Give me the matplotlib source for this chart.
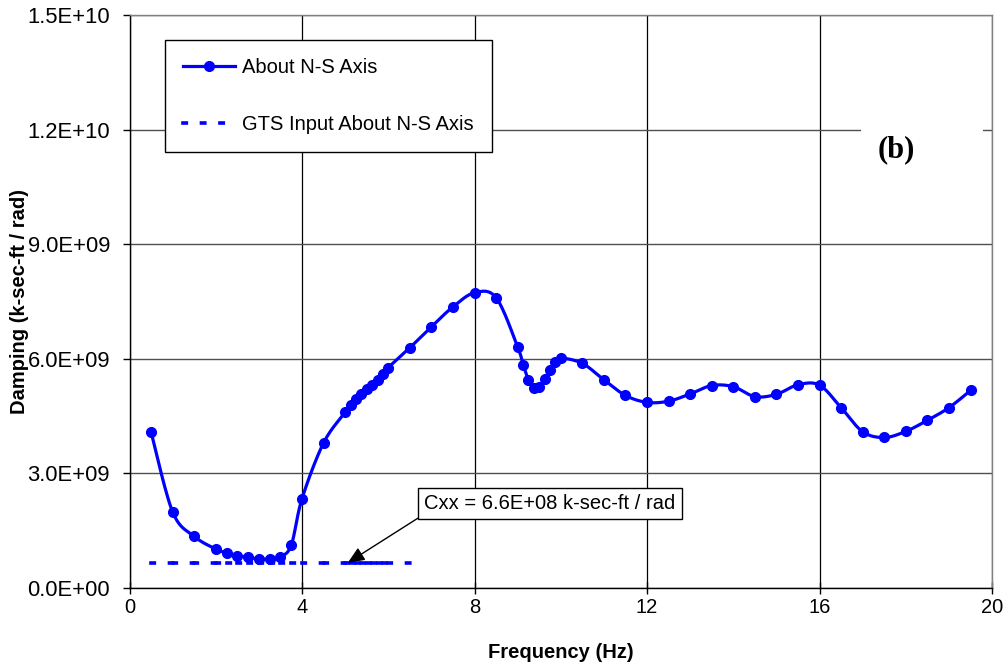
import numpy as np
import matplotlib
matplotlib.use("Agg")
import matplotlib.pyplot as plt
from matplotlib.lines import Line2D
from matplotlib.collections import LineCollection
from matplotlib.patches import Rectangle

plt.rcParams["font.family"] = ["Liberation Sans", "DejaVu Sans"]
plt.rcParams["lines.scale_dashes"] = False

# Frequency (Hz) and damping about the N-S axis (k-sec-ft / rad)
freq = [0.5, 1.0, 1.5, 2.0, 2.25, 2.5, 2.75, 3.0, 3.25, 3.5, 3.75, 4.0, 4.5,
        5.0, 5.125, 5.25, 5.375, 5.5, 5.625, 5.75, 5.875, 6.0, 6.5, 7.0, 7.5,
        8.0, 8.5, 9.0, 9.125, 9.25, 9.375, 9.5, 9.625, 9.75, 9.875, 10.0,
        10.5, 11.0, 11.5, 12.0, 12.5, 13.0, 13.5, 14.0, 14.5, 15.0, 15.5,
        16.0, 16.5, 17.0, 17.5, 18.0, 18.5, 19.0, 19.5]
damping_e9 = [4.08, 1.99, 1.35, 1.02, 0.92, 0.85, 0.80, 0.76, 0.76, 0.82, 1.12,
              2.34, 3.80, 4.60, 4.80, 4.95, 5.07, 5.20, 5.32, 5.45, 5.60, 5.77,
              6.29, 6.84, 7.36, 7.73, 7.60, 6.31, 5.85, 5.45, 5.24, 5.26, 5.48,
              5.71, 5.92, 6.02, 5.88, 5.45, 5.04, 4.86, 4.89, 5.08, 5.30, 5.27,
              5.01, 5.07, 5.32, 5.31, 4.72, 4.09, 3.94, 4.10, 4.39, 4.72, 5.17]

# GTS input damping, constant over the lower frequency points
gts_value = 6.6e8
gts_count = 23

xticks = [0, 4, 8, 12, 16, 20]
yticks = [0.0, 3.0e9, 6.0e9, 9.0e9, 1.2e10, 1.5e10]
ytick_labels = ["0.0E+00", "3.0E+09", "6.0E+09", "9.0E+09", "1.2E+10", "1.5E+10"]

BLUE = "#0000FF"
FS = 14.5


def smooth_curve(xs, ys, xspan, yspan, n=24):
    """Cardinal (Catmull-Rom) spline through the points, like a smoothed line chart."""
    px = np.asarray(xs, float) / xspan
    py = np.asarray(ys, float) / yspan
    P = np.column_stack([px, py])
    P = np.vstack([P[0], P, P[-1]])
    out = []
    t = np.linspace(0, 1, n, endpoint=False)[:, None]
    for i in range(1, len(P) - 2):
        p0, p1, p2, p3 = P[i - 1], P[i], P[i + 1], P[i + 2]
        c1 = p1 + (p2 - p0) / 6.0
        c2 = p2 - (p3 - p1) / 6.0
        seg = ((1 - t) ** 3) * p1 + 3 * ((1 - t) ** 2) * t * c1 \
            + 3 * (1 - t) * t ** 2 * c2 + t ** 3 * p2
        out.append(seg)
    out.append(P[-2][None, :])
    out = np.vstack(out)
    return out[:, 0] * xspan, out[:, 1] * yspan


fig = plt.figure(figsize=(10.08, 6.68), dpi=100)
ax = fig.add_axes([0.1285, 0.1198, 0.8557, 0.8577])

ax.set_xlim(0, 20)
ax.set_ylim(0, 1.5e10)

damping = np.array(damping_e9) * 1e9

# grid
for xv in xticks:
    ax.axvline(xv, color="black", lw=0.9, zorder=1)
for yv in yticks:
    ax.axhline(yv, color="#505050", lw=1.0, zorder=1)

# main series: smoothed line with markers
sx, sy = smooth_curve(freq, damping, 20.0 * 0.6, 1.5e10)
ax.plot(sx, sy, color=BLUE, lw=2.3, zorder=4, solid_capstyle="round")
ax.plot(freq, damping, linestyle="none", marker="o", ms=7.0,
        color=BLUE, zorder=5)

# GTS input: dashed line drawn point to point (dash pattern restarts per segment)
GTS_LW = 2.6
dash = (0, (2.4, 10.9))
gx = freq[:gts_count]
segs = [[(gx[i], gts_value), (gx[i + 1], gts_value)] for i in range(len(gx) - 1)]
lc = LineCollection(segs, colors=BLUE, linewidths=GTS_LW, linestyles=[dash],
                    capstyle="projecting", zorder=3)
ax.add_collection(lc)

# axes styling
for side in ["top", "right"]:
    ax.spines[side].set_color("#808080")
    ax.spines[side].set_linewidth(1.0)
for side in ["left", "bottom"]:
    ax.spines[side].set_color("black")
    ax.spines[side].set_linewidth(1.0)

ax.set_xticks(xticks)
ax.set_xticklabels([str(v) for v in xticks], fontsize=FS)
ax.set_yticks(yticks)
ax.set_yticklabels(ytick_labels, fontsize=15.8)
ax.tick_params(axis="x", direction="inout", length=9, width=1.0, pad=3)
ax.tick_params(axis="y", direction="out", length=5, width=1.0, pad=9)

ax.set_xlabel("Frequency (Hz)", fontsize=FS, fontweight="bold")
ax.set_ylabel("Damping (k-sec-ft / rad)", fontsize=FS, fontweight="bold")
ax.xaxis.set_label_coords(0.5, -0.096)
ax.yaxis.set_label_coords(-0.117, 0.5)

# legend
handles = [
    Line2D([], [], color=BLUE, lw=2.3, marker="o", ms=7.0),
    Line2D([], [], color=BLUE, lw=GTS_LW, linestyle=dash, dash_capstyle="projecting"),
]
labels = ["About N-S Axis", "GTS Input About N-S Axis"]
leg = ax.legend(handles, labels, loc="upper left", bbox_to_anchor=(0.041, 0.957),
                fontsize=FS, frameon=True, fancybox=False, edgecolor="black",
                framealpha=1.0, borderpad=0.9, labelspacing=1.9,
                handlelength=2.6, handletextpad=0.35, borderaxespad=0)
leg.get_frame().set_linewidth(1.0)
leg.set_zorder(6)

# panel label on a white patch
ax.add_patch(Rectangle((0.848, 0.70), 0.142, 0.12, transform=ax.transAxes,
                       facecolor="white", edgecolor="none", zorder=2))
ax.text(0.889, 0.765, "(b)", transform=ax.transAxes, ha="center", va="center",
        fontsize=22, fontweight="bold", family=["Liberation Serif", "DejaVu Serif"],
        zorder=6)

# annotation of GTS input value
ax.annotate("Cxx = 6.6E+08 k-sec-ft / rad",
            xy=(5.06, gts_value), xytext=(9.75, 2.2e9),
            ha="center", va="center", fontsize=FS,
            bbox=dict(boxstyle="square,pad=0.3", fc="white", ec="black", lw=1.0),
            arrowprops=dict(arrowstyle="-|>,head_length=0.7,head_width=0.3",
                            color="black", lw=1.0, relpos=(0.03, 0.22),
                            shrinkA=0, shrinkB=0),
            zorder=7)

fig.savefig("out.png", dpi=100)
